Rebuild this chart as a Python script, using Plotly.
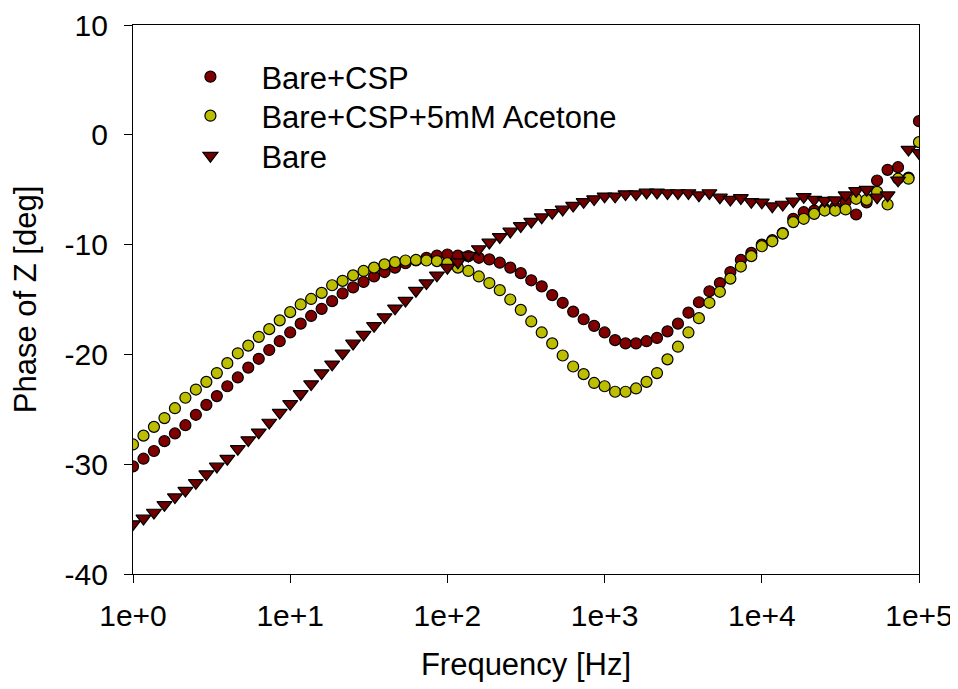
import plotly.graph_objects as go

# ========= DATA =========
freq_hz = [
    1.0, 1.166, 1.359, 1.585, 1.848, 2.154, 2.512, 2.929, 3.415, 3.981, 4.642, 5.412, 6.310, 7.356, 8.577,
    10.0, 11.66, 13.59, 15.85, 18.48, 21.54, 25.12, 29.29, 34.15, 39.81, 46.42, 54.12, 63.10, 73.56, 85.77,
    100.0, 116.6, 135.9, 158.5, 184.8, 215.4, 251.2, 292.9, 341.5, 398.1, 464.2, 541.2, 631.0, 735.6, 857.7,
    1000, 1166, 1359, 1585, 1848, 2154, 2512, 2929, 3415, 3981, 4642, 5412, 6310, 7356, 8577,
    10000, 11660, 13590, 15850, 18480, 21540, 25120, 29290, 34150, 39810, 46420, 54120, 63100, 73560, 85770,
    100000,
]

phase_csp = [
    -30.2, -29.5, -28.8, -27.9, -27.2, -26.45, -25.5, -24.6, -23.8, -22.9, -22.1, -21.2, -20.4, -19.6, -18.8,
    -18.0, -17.2, -16.5, -15.85, -15.15, -14.45, -13.9, -13.4, -12.9, -12.5, -12.1, -11.7, -11.45, -11.2, -11.0,
    -10.9, -11.0, -11.05, -11.2, -11.35, -11.65, -12.1, -12.6, -13.25, -13.8, -14.6, -15.3, -16.1, -16.8, -17.4,
    -18.0, -18.7, -19.0, -19.0, -18.8, -18.5, -17.9, -17.2, -16.2, -15.25, -14.25, -13.5, -12.5, -11.4, -10.75,
    -10.0, -9.6, -8.95, -7.65, -7.05, -6.9, -6.75, -6.6, -6.1, -7.26, -6.15, -4.16, -3.19, -2.95, -3.9,
    1.24,
]

phase_csp_acetone = [
    -28.2, -27.4, -26.6, -25.8, -24.9, -23.95, -23.2, -22.5, -21.7, -20.8, -19.9, -19.2, -18.4, -17.7, -16.9,
    -16.15, -15.45, -14.95, -14.4, -13.7, -13.3, -12.8, -12.4, -12.1, -11.8, -11.6, -11.45, -11.4, -11.45, -11.5,
    -11.7, -12.1, -12.4, -12.9, -13.5, -14.15, -15.0, -15.95, -17.0, -18.0, -19.0, -20.1, -21.1, -21.8, -22.6,
    -22.9, -23.4, -23.4, -23.1, -22.5, -21.7, -20.45, -19.3, -18.0, -16.7, -15.3, -14.3, -13.1, -12.0, -11.05,
    -10.15, -9.7, -9.0, -7.95, -7.65, -7.2, -6.9, -6.9, -6.8, -5.83, -5.92, -5.2, -6.35, -4.0, -4.0,
    -0.67,
]

phase_bare = [
    -35.45, -34.94, -34.4, -33.7, -33.0, -32.4, -31.7, -30.9, -30.2, -29.5, -28.6, -27.8, -27.1, -26.2, -25.3,
    -24.5, -23.6, -22.7, -21.7, -20.9, -19.9, -19.0, -18.2, -17.4, -16.6, -15.8, -15.1, -14.2, -13.5, -12.8,
    -12.1, -11.6, -11.0, -10.4, -9.8, -9.3, -8.8, -8.3, -7.9, -7.5, -7.1, -6.8, -6.45, -6.1, -5.85,
    -5.6, -5.6, -5.4, -5.4, -5.25, -5.25, -5.3, -5.3, -5.3, -5.5, -5.3, -5.7, -5.9, -5.75, -6.1,
    -6.15, -6.5, -6.35, -6.05, -5.65, -5.9, -6.0, -5.95, -5.5, -5.1, -5.0, -5.7, -5.5, -4.15, -1.35,
    -1.65,
]

x_tickvals = [1, 10, 100, 1000, 10000, 100000]
x_ticktext = ["1e+0", "1e+1", "1e+2", "1e+3", "1e+4", "1e+5"]
y_tickvals = [-40, -30, -20, -10, 0, 10]
y_ticktext = ["-40", "-30", "-20", "-10", "0", "10"]

FONT = "Liberation Sans, Arial, sans-serif"

fig = go.Figure()

# red circles first, yellow on top, triangles last; one legend box per entry
fig.add_trace(go.Scatter(
    x=freq_hz, y=phase_csp, mode="markers", name="Bare+CSP", legend="legend",
    marker=dict(symbol="circle", size=11, color="#800000", line=dict(color="black", width=1.2)),
))
fig.add_trace(go.Scatter(
    x=freq_hz, y=phase_csp_acetone, mode="markers", name="Bare+CSP+5mM Acetone", legend="legend2",
    marker=dict(symbol="circle", size=11, color="#BEBE00", line=dict(color="black", width=1.2)),
))
fig.add_trace(go.Scatter(
    x=freq_hz, y=phase_bare, mode="markers", name="Bare", legend="legend3",
    marker=dict(symbol="triangle-down", size=13, color="#6E0000", line=dict(color="black", width=1.2)),
))

legend_style = dict(
    x=0.0336, xanchor="left", yanchor="top",
    bgcolor="rgba(0,0,0,0)", borderwidth=0, itemwidth=92,
    font=dict(family=FONT, size=31, color="black"),
)

# the page puts the figure 8px in from the top-left, so size it to fit the window
fig.update_layout(
    width=950, height=681,
    paper_bgcolor="white", plot_bgcolor="white",
    margin=dict(l=125, r=39, t=17, b=115),
    font=dict(family=FONT, size=30, color="black"),
    showlegend=True,
    legend=dict(y=0.9544, **legend_style),
    legend2=dict(y=0.8834, **legend_style),
    legend3=dict(y=0.8105, **legend_style),
)

fig.update_xaxes(
    type="log", range=[0, 5], automargin=False,
    tickvals=x_tickvals, ticktext=x_ticktext,
    ticks="outside", ticklen=8, tickwidth=1.3, tickcolor="black",
    showline=True, linecolor="black", linewidth=1.3, mirror=True,
    showgrid=False, zeroline=False,
    tickfont=dict(family=FONT, size=30),
    ticklabelstandoff=7,
    title=dict(text="Frequency [Hz]", font=dict(family=FONT, size=31), standoff=22),
)
fig.update_yaxes(
    range=[-40, 10], automargin=False,
    tickvals=y_tickvals, ticktext=y_ticktext,
    ticks="outside", ticklen=8, tickwidth=1.3, tickcolor="black",
    showline=True, linecolor="black", linewidth=1.3, mirror=True,
    showgrid=False, zeroline=False,
    tickfont=dict(family=FONT, size=30),
    ticklabelstandoff=10,
    title=dict(text="Phase of Z [deg]", font=dict(family=FONT, size=31), standoff=18),
)

fig.write_html("out.html")
